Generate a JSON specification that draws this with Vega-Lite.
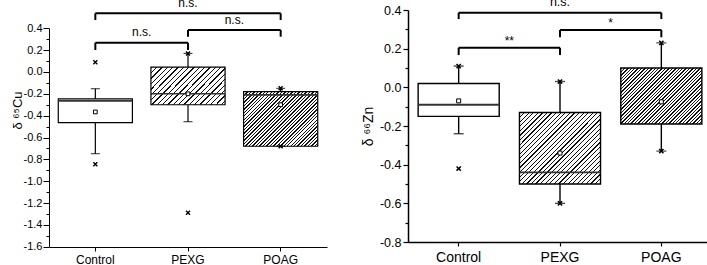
{
"$schema":"https://vega.github.io/schema/vega-lite/v6.json",
"padding":{"left":11,"top":-5,"right":0,"bottom":0},
"spacing":34,
"config":{"view":{"stroke":null},"font":"Liberation Sans","axis":{"domainColor":"#000","tickColor":"#000","labelColor":"#000","titleColor":"#000","labelFont":"Liberation Sans","titleFont":"Liberation Sans","titleFontWeight":"normal","grid":false,"labelOverlap":false},"text":{"font":"Liberation Sans","color":"#000"}},
"datasets":{
"boxes":[
{"panel":"Cu","group":"Control","lo":-0.748,"q1":-0.464,"med":-0.265,"q3":-0.247,"hi":-0.153,"mean":-0.366},
{"panel":"Cu","group":"PEXG","lo":-0.455,"q1":-0.3,"med":-0.2,"q3":0.045,"hi":0.17,"mean":-0.2},
{"panel":"Cu","group":"POAG","lo":-0.68,"q1":-0.68,"med":-0.21,"q3":-0.18,"hi":-0.15,"mean":-0.3},
{"panel":"Zn","group":"Control","lo":-0.24,"q1":-0.15,"med":-0.09,"q3":0.02,"hi":0.11,"mean":-0.07},
{"panel":"Zn","group":"PEXG","lo":-0.6,"q1":-0.5,"med":-0.44,"q3":-0.13,"hi":0.03,"mean":-0.34},
{"panel":"Zn","group":"POAG","lo":-0.33,"q1":-0.19,"med":null,"q3":0.1,"hi":0.23,"mean":-0.075}
],
"marks":[
{"panel":"Cu","group":"Control","v":0.09},{"panel":"Cu","group":"Control","v":-0.845},
{"panel":"Cu","group":"PEXG","v":0.17},{"panel":"Cu","group":"PEXG","v":-1.29},
{"panel":"Cu","group":"POAG","v":-0.15},{"panel":"Cu","group":"POAG","v":-0.68},
{"panel":"Zn","group":"Control","v":0.11},{"panel":"Zn","group":"Control","v":-0.42},
{"panel":"Zn","group":"PEXG","v":0.03},{"panel":"Zn","group":"PEXG","v":-0.6},
{"panel":"Zn","group":"POAG","v":0.23},{"panel":"Zn","group":"POAG","v":-0.33}
],
"brackets":[
{"panel":"Cu","from":"Control","to":"PEXG","span":1,"y":0.268,"yEnd":0.201,"label":"n.s."},
{"panel":"Cu","from":"PEXG","to":"POAG","span":1,"y":0.384,"yEnd":0.323,"label":"n.s."},
{"panel":"Cu","from":"Control","to":"POAG","span":2,"y":0.537,"yEnd":0.476,"label":"n.s."},
{"panel":"Zn","from":"Control","to":"PEXG","span":1,"y":0.205,"yEnd":0.167,"label":"**"},
{"panel":"Zn","from":"PEXG","to":"POAG","span":1,"y":0.297,"yEnd":0.259,"label":"*"},
{"panel":"Zn","from":"Control","to":"POAG","span":2,"y":0.386,"yEnd":0.353,"label":"n.s."}
]
},
"hconcat":[
{"width":278,"height":247,
"layer":[
{"data":{"name":"boxes"},"transform":[{"filter":"datum.panel=='Cu' && datum.group=='Control'"}],
"mark":{"type":"bar","fill":"#fff","stroke":"#000","strokeWidth":1.2,"width":{"band":0.8}},
"encoding":{"x":{"field":"group","type":"nominal","scale":{"domain":["Control","PEXG","POAG"],"paddingInner":0,"paddingOuter":0},"axis":{"title":null,"labelAngle":0,"labelFontSize":12,"tickSize":4,"labelPadding":3,"domainWidth":1,"tickWidth":1}},
"y":{"field":"q1","type":"quantitative","scale":{"domain":[-1.6,0.4],"range":[246.7,28.3],"nice":false,"zero":false},"axis":{"title":"δ ⁶⁵Cu","titleFontSize":13,"titlePadding":-1,"titleY":110,"labelOverlap":false,"tickCount":100,"labelFontSize":11,"labelPadding":1,"values":[-1.6,-1.5,-1.4,-1.3,-1.2,-1.1,-1,-0.9,-0.8,-0.7,-0.6,-0.5,-0.4,-0.3,-0.2,-0.1,0,0.1,0.2,0.3,0.4],"labelExpr":"abs(round(datum.value*10))%2==0 ? replace(format(datum.value,'.1f'),'\u2212','-') : ''","tickSize":{"condition":{"test":"abs(round(datum.value*10))%2==0","value":6},"value":3},"domainWidth":1,"tickWidth":1}},
"y2":{"field":"q3"}}},
{"data":{"name":"boxes"},"transform":[{"filter":"datum.panel=='Cu' && datum.group=='PEXG'"}],
"mark":{"type":"bar","stroke":"#000","strokeWidth":1.2,"width":{"band":0.8},"fill":{"gradient":"linear","x1":0,"y1":0,"x2":1.2,"y2":0.6,"stops":[
{"offset":0,"color":"#111"},{"offset":0.012,"color":"#111"},{"offset":0.012,"color":"#fff"},{"offset":0.048,"color":"#fff"},
{"offset":0.048,"color":"#111"},{"offset":0.06,"color":"#111"},{"offset":0.06,"color":"#fff"},{"offset":0.096,"color":"#fff"},
{"offset":0.096,"color":"#111"},{"offset":0.108,"color":"#111"},{"offset":0.108,"color":"#fff"},{"offset":0.144,"color":"#fff"},
{"offset":0.144,"color":"#111"},{"offset":0.156,"color":"#111"},{"offset":0.156,"color":"#fff"},{"offset":0.192,"color":"#fff"},
{"offset":0.192,"color":"#111"},{"offset":0.204,"color":"#111"},{"offset":0.204,"color":"#fff"},{"offset":0.24,"color":"#fff"},
{"offset":0.24,"color":"#111"},{"offset":0.252,"color":"#111"},{"offset":0.252,"color":"#fff"},{"offset":0.288,"color":"#fff"},
{"offset":0.288,"color":"#111"},{"offset":0.3,"color":"#111"},{"offset":0.3,"color":"#fff"},{"offset":0.336,"color":"#fff"},
{"offset":0.336,"color":"#111"},{"offset":0.348,"color":"#111"},{"offset":0.348,"color":"#fff"},{"offset":0.384,"color":"#fff"},
{"offset":0.384,"color":"#111"},{"offset":0.396,"color":"#111"},{"offset":0.396,"color":"#fff"},{"offset":0.432,"color":"#fff"},
{"offset":0.432,"color":"#111"},{"offset":0.444,"color":"#111"},{"offset":0.444,"color":"#fff"},{"offset":0.48,"color":"#fff"},
{"offset":0.48,"color":"#111"},{"offset":0.492,"color":"#111"},{"offset":0.492,"color":"#fff"},{"offset":0.528,"color":"#fff"},
{"offset":0.528,"color":"#111"},{"offset":0.54,"color":"#111"},{"offset":0.54,"color":"#fff"},{"offset":0.576,"color":"#fff"},
{"offset":0.576,"color":"#111"},{"offset":0.588,"color":"#111"},{"offset":0.588,"color":"#fff"},{"offset":0.624,"color":"#fff"},
{"offset":0.624,"color":"#111"},{"offset":0.636,"color":"#111"},{"offset":0.636,"color":"#fff"},{"offset":0.672,"color":"#fff"},
{"offset":0.672,"color":"#111"},{"offset":0.684,"color":"#111"},{"offset":0.684,"color":"#fff"},{"offset":0.72,"color":"#fff"},
{"offset":0.72,"color":"#111"},{"offset":0.732,"color":"#111"},{"offset":0.732,"color":"#fff"},{"offset":0.768,"color":"#fff"},
{"offset":0.768,"color":"#111"},{"offset":0.78,"color":"#111"},{"offset":0.78,"color":"#fff"},{"offset":0.816,"color":"#fff"},
{"offset":0.816,"color":"#111"},{"offset":0.828,"color":"#111"},{"offset":0.828,"color":"#fff"},{"offset":0.864,"color":"#fff"},
{"offset":0.864,"color":"#111"},{"offset":0.876,"color":"#111"},{"offset":0.876,"color":"#fff"},{"offset":0.912,"color":"#fff"},
{"offset":0.912,"color":"#111"},{"offset":0.924,"color":"#111"},{"offset":0.924,"color":"#fff"},{"offset":0.96,"color":"#fff"},
{"offset":0.96,"color":"#111"},{"offset":0.972,"color":"#111"},{"offset":0.972,"color":"#fff"},{"offset":1,"color":"#fff"}]}},
"encoding":{"x":{"field":"group","type":"nominal"},"y":{"field":"q1","type":"quantitative"},"y2":{"field":"q3"}}},
{"data":{"name":"boxes"},"transform":[{"filter":"datum.panel=='Cu' && datum.group=='POAG'"}],
"mark":{"type":"bar","stroke":"#000","strokeWidth":1.2,"width":{"band":0.8},"fill":{"gradient":"linear","x1":0,"y1":0,"x2":1.1255,"y2":0.8294,"stops":[
{"offset":0,"color":"#111"},{"offset":0.011,"color":"#111"},{"offset":0.011,"color":"#fff"},{"offset":0.027,"color":"#fff"},
{"offset":0.027,"color":"#111"},{"offset":0.038,"color":"#111"},{"offset":0.038,"color":"#fff"},{"offset":0.054,"color":"#fff"},
{"offset":0.054,"color":"#111"},{"offset":0.065,"color":"#111"},{"offset":0.065,"color":"#fff"},{"offset":0.081,"color":"#fff"},
{"offset":0.081,"color":"#111"},{"offset":0.092,"color":"#111"},{"offset":0.092,"color":"#fff"},{"offset":0.108,"color":"#fff"},
{"offset":0.108,"color":"#111"},{"offset":0.119,"color":"#111"},{"offset":0.119,"color":"#fff"},{"offset":0.135,"color":"#fff"},
{"offset":0.135,"color":"#111"},{"offset":0.146,"color":"#111"},{"offset":0.146,"color":"#fff"},{"offset":0.162,"color":"#fff"},
{"offset":0.162,"color":"#111"},{"offset":0.173,"color":"#111"},{"offset":0.173,"color":"#fff"},{"offset":0.189,"color":"#fff"},
{"offset":0.189,"color":"#111"},{"offset":0.2,"color":"#111"},{"offset":0.2,"color":"#fff"},{"offset":0.216,"color":"#fff"},
{"offset":0.216,"color":"#111"},{"offset":0.227,"color":"#111"},{"offset":0.227,"color":"#fff"},{"offset":0.243,"color":"#fff"},
{"offset":0.243,"color":"#111"},{"offset":0.254,"color":"#111"},{"offset":0.254,"color":"#fff"},{"offset":0.27,"color":"#fff"},
{"offset":0.27,"color":"#111"},{"offset":0.281,"color":"#111"},{"offset":0.281,"color":"#fff"},{"offset":0.297,"color":"#fff"},
{"offset":0.297,"color":"#111"},{"offset":0.308,"color":"#111"},{"offset":0.308,"color":"#fff"},{"offset":0.324,"color":"#fff"},
{"offset":0.324,"color":"#111"},{"offset":0.335,"color":"#111"},{"offset":0.335,"color":"#fff"},{"offset":0.351,"color":"#fff"},
{"offset":0.351,"color":"#111"},{"offset":0.362,"color":"#111"},{"offset":0.362,"color":"#fff"},{"offset":0.378,"color":"#fff"},
{"offset":0.378,"color":"#111"},{"offset":0.389,"color":"#111"},{"offset":0.389,"color":"#fff"},{"offset":0.405,"color":"#fff"},
{"offset":0.405,"color":"#111"},{"offset":0.416,"color":"#111"},{"offset":0.416,"color":"#fff"},{"offset":0.432,"color":"#fff"},
{"offset":0.432,"color":"#111"},{"offset":0.443,"color":"#111"},{"offset":0.443,"color":"#fff"},{"offset":0.459,"color":"#fff"},
{"offset":0.459,"color":"#111"},{"offset":0.47,"color":"#111"},{"offset":0.47,"color":"#fff"},{"offset":0.486,"color":"#fff"},
{"offset":0.486,"color":"#111"},{"offset":0.497,"color":"#111"},{"offset":0.497,"color":"#fff"},{"offset":0.513,"color":"#fff"},
{"offset":0.513,"color":"#111"},{"offset":0.524,"color":"#111"},{"offset":0.524,"color":"#fff"},{"offset":0.54,"color":"#fff"},
{"offset":0.54,"color":"#111"},{"offset":0.551,"color":"#111"},{"offset":0.551,"color":"#fff"},{"offset":0.567,"color":"#fff"},
{"offset":0.567,"color":"#111"},{"offset":0.578,"color":"#111"},{"offset":0.578,"color":"#fff"},{"offset":0.594,"color":"#fff"},
{"offset":0.594,"color":"#111"},{"offset":0.605,"color":"#111"},{"offset":0.605,"color":"#fff"},{"offset":0.621,"color":"#fff"},
{"offset":0.621,"color":"#111"},{"offset":0.632,"color":"#111"},{"offset":0.632,"color":"#fff"},{"offset":0.648,"color":"#fff"},
{"offset":0.648,"color":"#111"},{"offset":0.659,"color":"#111"},{"offset":0.659,"color":"#fff"},{"offset":0.675,"color":"#fff"},
{"offset":0.675,"color":"#111"},{"offset":0.686,"color":"#111"},{"offset":0.686,"color":"#fff"},{"offset":0.702,"color":"#fff"},
{"offset":0.702,"color":"#111"},{"offset":0.713,"color":"#111"},{"offset":0.713,"color":"#fff"},{"offset":0.729,"color":"#fff"},
{"offset":0.729,"color":"#111"},{"offset":0.74,"color":"#111"},{"offset":0.74,"color":"#fff"},{"offset":0.756,"color":"#fff"},
{"offset":0.756,"color":"#111"},{"offset":0.767,"color":"#111"},{"offset":0.767,"color":"#fff"},{"offset":0.783,"color":"#fff"},
{"offset":0.783,"color":"#111"},{"offset":0.794,"color":"#111"},{"offset":0.794,"color":"#fff"},{"offset":0.81,"color":"#fff"},
{"offset":0.81,"color":"#111"},{"offset":0.821,"color":"#111"},{"offset":0.821,"color":"#fff"},{"offset":0.837,"color":"#fff"},
{"offset":0.837,"color":"#111"},{"offset":0.848,"color":"#111"},{"offset":0.848,"color":"#fff"},{"offset":0.864,"color":"#fff"},
{"offset":0.864,"color":"#111"},{"offset":0.875,"color":"#111"},{"offset":0.875,"color":"#fff"},{"offset":0.891,"color":"#fff"},
{"offset":0.891,"color":"#111"},{"offset":0.902,"color":"#111"},{"offset":0.902,"color":"#fff"},{"offset":0.918,"color":"#fff"},
{"offset":0.918,"color":"#111"},{"offset":0.929,"color":"#111"},{"offset":0.929,"color":"#fff"},{"offset":0.945,"color":"#fff"},
{"offset":0.945,"color":"#111"},{"offset":0.956,"color":"#111"},{"offset":0.956,"color":"#fff"},{"offset":0.972,"color":"#fff"},
{"offset":0.972,"color":"#111"},{"offset":0.983,"color":"#111"},{"offset":0.983,"color":"#fff"},{"offset":0.999,"color":"#fff"},
{"offset":0.999,"color":"#111"},{"offset":1,"color":"#111"}]}},
"encoding":{"x":{"field":"group","type":"nominal"},"y":{"field":"q1","type":"quantitative"},"y2":{"field":"q3"}}},
{"data":{"name":"boxes"},"transform":[{"filter":"datum.panel=='Cu'"}],
"mark":{"type":"bar","fill":null,"stroke":"#333","strokeWidth":1.6,"width":{"band":0.8}},
"encoding":{"x":{"field":"group","type":"nominal"},"y":{"field":"med","type":"quantitative"},"y2":{"field":"med"}}},
{"data":{"name":"boxes"},"transform":[{"filter":"datum.panel=='Cu'"}],
"mark":{"type":"rule","color":"#000","strokeWidth":1.2},
"encoding":{"x":{"field":"group","type":"nominal"},"y":{"field":"q3","type":"quantitative"},"y2":{"field":"hi"}}},
{"data":{"name":"boxes"},"transform":[{"filter":"datum.panel=='Cu'"}],
"mark":{"type":"rule","color":"#000","strokeWidth":1.2},
"encoding":{"x":{"field":"group","type":"nominal"},"y":{"field":"lo","type":"quantitative"},"y2":{"field":"q1"}}},
{"data":{"name":"boxes"},"transform":[{"filter":"datum.panel=='Cu'"},{"fold":["lo","hi"],"as":["k","v"]}],
"mark":{"type":"tick","color":"#000","size":9,"thickness":1.2},
"encoding":{"x":{"field":"group","type":"nominal"},"y":{"field":"v","type":"quantitative"}}},
{"data":{"name":"marks"},"transform":[{"filter":"datum.panel=='Cu'"}],
"mark":{"type":"point","shape":"M-1,-1L1,1M-1,1L1,-1","filled":false,"stroke":"#000","strokeWidth":1.4,"size":16,"opacity":1},
"encoding":{"x":{"field":"group","type":"nominal"},"y":{"field":"v","type":"quantitative"}}},
{"data":{"name":"boxes"},"transform":[{"filter":"datum.panel=='Cu'"}],
"mark":{"type":"point","shape":"square","filled":true,"fill":"#fff","stroke":"#000","strokeWidth":1,"size":14,"opacity":1},
"encoding":{"x":{"field":"group","type":"nominal"},"y":{"field":"mean","type":"quantitative"}}},
{"data":{"name":"brackets"},"transform":[{"filter":"datum.panel=='Cu'"}],
"mark":{"type":"rule","color":"#000","strokeWidth":2},
"encoding":{"x":{"field":"from","type":"nominal"},"x2":{"field":"to"},"y":{"field":"y","type":"quantitative"}}},
{"data":{"name":"brackets"},"transform":[{"filter":"datum.panel=='Cu'"}],
"mark":{"type":"rule","color":"#000","strokeWidth":2},
"encoding":{"x":{"field":"from","type":"nominal"},"y":{"field":"y","type":"quantitative"},"y2":{"field":"yEnd"}}},
{"data":{"name":"brackets"},"transform":[{"filter":"datum.panel=='Cu'"}],
"mark":{"type":"rule","color":"#000","strokeWidth":2},
"encoding":{"x":{"field":"to","type":"nominal"},"y":{"field":"y","type":"quantitative"},"y2":{"field":"yEnd"}}},
{"data":{"name":"brackets"},"transform":[{"filter":"datum.panel=='Cu' && datum.span==1"}],
"mark":{"type":"text","fontSize":12,"baseline":"alphabetic","dy":-6.5},
"encoding":{"x":{"field":"from","type":"nominal","bandPosition":1},"y":{"field":"y","type":"quantitative"},"text":{"field":"label"}}},
{"data":{"name":"brackets"},"transform":[{"filter":"datum.panel=='Cu' && datum.span==2"}],
"mark":{"type":"text","fontSize":12,"baseline":"alphabetic","dy":-6.5},
"encoding":{"x":{"field":"from","type":"nominal","bandPosition":1.5},"y":{"field":"y","type":"quantitative"},"text":{"field":"label"}}}
]},
{"width":304,"height":242,
"layer":[
{"data":{"name":"boxes"},"transform":[{"filter":"datum.panel=='Zn' && datum.group=='Control'"}],
"mark":{"type":"bar","fill":"#fff","stroke":"#000","strokeWidth":1.4,"width":{"band":0.8}},
"encoding":{"x":{"field":"group","type":"nominal","scale":{"domain":["Control","PEXG","POAG"],"paddingInner":0,"paddingOuter":0},"axis":{"title":null,"labelAngle":0,"labelFontSize":14,"tickSize":4,"labelPadding":4,"domainWidth":1.5,"tickWidth":1.2}},
"y":{"field":"q1","type":"quantitative","scale":{"domain":[-0.8,0.4],"range":[242,10],"nice":false,"zero":false},"axis":{"title":"δ ⁶⁶Zn","titleFontSize":14,"titlePadding":4,"labelOverlap":false,"tickCount":100,"labelFontSize":12.5,"labelPadding":2,"values":[-0.8,-0.7,-0.6,-0.5,-0.4,-0.3,-0.2,-0.1,0,0.1,0.2,0.3,0.4],"labelExpr":"abs(round(datum.value*10))%2==0 ? replace(format(datum.value,'.1f'),'\u2212','-') : ''","tickSize":{"condition":{"test":"abs(round(datum.value*10))%2==0","value":5},"value":3},"domainWidth":1.5,"tickWidth":1.2}},
"y2":{"field":"q3"}}},
{"data":{"name":"boxes"},"transform":[{"filter":"datum.panel=='Zn' && datum.group=='PEXG'"}],
"mark":{"type":"bar","stroke":"#000","strokeWidth":1.4,"width":{"band":0.8},"fill":{"gradient":"linear","x1":0,"y1":0,"x2":1.059,"y2":0.934,"stops":[
{"offset":0,"color":"#111"},{"offset":0.008,"color":"#111"},{"offset":0.008,"color":"#fff"},{"offset":0.03,"color":"#fff"},
{"offset":0.03,"color":"#111"},{"offset":0.038,"color":"#111"},{"offset":0.038,"color":"#fff"},{"offset":0.06,"color":"#fff"},
{"offset":0.06,"color":"#111"},{"offset":0.068,"color":"#111"},{"offset":0.068,"color":"#fff"},{"offset":0.09,"color":"#fff"},
{"offset":0.09,"color":"#111"},{"offset":0.098,"color":"#111"},{"offset":0.098,"color":"#fff"},{"offset":0.12,"color":"#fff"},
{"offset":0.12,"color":"#111"},{"offset":0.128,"color":"#111"},{"offset":0.128,"color":"#fff"},{"offset":0.15,"color":"#fff"},
{"offset":0.15,"color":"#111"},{"offset":0.158,"color":"#111"},{"offset":0.158,"color":"#fff"},{"offset":0.18,"color":"#fff"},
{"offset":0.18,"color":"#111"},{"offset":0.188,"color":"#111"},{"offset":0.188,"color":"#fff"},{"offset":0.21,"color":"#fff"},
{"offset":0.21,"color":"#111"},{"offset":0.218,"color":"#111"},{"offset":0.218,"color":"#fff"},{"offset":0.24,"color":"#fff"},
{"offset":0.24,"color":"#111"},{"offset":0.248,"color":"#111"},{"offset":0.248,"color":"#fff"},{"offset":0.27,"color":"#fff"},
{"offset":0.27,"color":"#111"},{"offset":0.278,"color":"#111"},{"offset":0.278,"color":"#fff"},{"offset":0.3,"color":"#fff"},
{"offset":0.3,"color":"#111"},{"offset":0.308,"color":"#111"},{"offset":0.308,"color":"#fff"},{"offset":0.33,"color":"#fff"},
{"offset":0.33,"color":"#111"},{"offset":0.338,"color":"#111"},{"offset":0.338,"color":"#fff"},{"offset":0.36,"color":"#fff"},
{"offset":0.36,"color":"#111"},{"offset":0.368,"color":"#111"},{"offset":0.368,"color":"#fff"},{"offset":0.39,"color":"#fff"},
{"offset":0.39,"color":"#111"},{"offset":0.398,"color":"#111"},{"offset":0.398,"color":"#fff"},{"offset":0.42,"color":"#fff"},
{"offset":0.42,"color":"#111"},{"offset":0.428,"color":"#111"},{"offset":0.428,"color":"#fff"},{"offset":0.45,"color":"#fff"},
{"offset":0.45,"color":"#111"},{"offset":0.458,"color":"#111"},{"offset":0.458,"color":"#fff"},{"offset":0.48,"color":"#fff"},
{"offset":0.48,"color":"#111"},{"offset":0.488,"color":"#111"},{"offset":0.488,"color":"#fff"},{"offset":0.51,"color":"#fff"},
{"offset":0.51,"color":"#111"},{"offset":0.518,"color":"#111"},{"offset":0.518,"color":"#fff"},{"offset":0.54,"color":"#fff"},
{"offset":0.54,"color":"#111"},{"offset":0.548,"color":"#111"},{"offset":0.548,"color":"#fff"},{"offset":0.57,"color":"#fff"},
{"offset":0.57,"color":"#111"},{"offset":0.578,"color":"#111"},{"offset":0.578,"color":"#fff"},{"offset":0.6,"color":"#fff"},
{"offset":0.6,"color":"#111"},{"offset":0.608,"color":"#111"},{"offset":0.608,"color":"#fff"},{"offset":0.63,"color":"#fff"},
{"offset":0.63,"color":"#111"},{"offset":0.638,"color":"#111"},{"offset":0.638,"color":"#fff"},{"offset":0.66,"color":"#fff"},
{"offset":0.66,"color":"#111"},{"offset":0.668,"color":"#111"},{"offset":0.668,"color":"#fff"},{"offset":0.69,"color":"#fff"},
{"offset":0.69,"color":"#111"},{"offset":0.698,"color":"#111"},{"offset":0.698,"color":"#fff"},{"offset":0.72,"color":"#fff"},
{"offset":0.72,"color":"#111"},{"offset":0.728,"color":"#111"},{"offset":0.728,"color":"#fff"},{"offset":0.75,"color":"#fff"},
{"offset":0.75,"color":"#111"},{"offset":0.758,"color":"#111"},{"offset":0.758,"color":"#fff"},{"offset":0.78,"color":"#fff"},
{"offset":0.78,"color":"#111"},{"offset":0.788,"color":"#111"},{"offset":0.788,"color":"#fff"},{"offset":0.81,"color":"#fff"},
{"offset":0.81,"color":"#111"},{"offset":0.818,"color":"#111"},{"offset":0.818,"color":"#fff"},{"offset":0.84,"color":"#fff"},
{"offset":0.84,"color":"#111"},{"offset":0.848,"color":"#111"},{"offset":0.848,"color":"#fff"},{"offset":0.87,"color":"#fff"},
{"offset":0.87,"color":"#111"},{"offset":0.878,"color":"#111"},{"offset":0.878,"color":"#fff"},{"offset":0.9,"color":"#fff"},
{"offset":0.9,"color":"#111"},{"offset":0.908,"color":"#111"},{"offset":0.908,"color":"#fff"},{"offset":0.93,"color":"#fff"},
{"offset":0.93,"color":"#111"},{"offset":0.938,"color":"#111"},{"offset":0.938,"color":"#fff"},{"offset":0.96,"color":"#fff"},
{"offset":0.96,"color":"#111"},{"offset":0.968,"color":"#111"},{"offset":0.968,"color":"#fff"},{"offset":0.99,"color":"#fff"},
{"offset":0.99,"color":"#111"},{"offset":0.998,"color":"#111"},{"offset":0.998,"color":"#fff"},{"offset":1,"color":"#fff"}]}},
"encoding":{"x":{"field":"group","type":"nominal"},"y":{"field":"q1","type":"quantitative"},"y2":{"field":"q3"}}},
{"data":{"name":"boxes"},"transform":[{"filter":"datum.panel=='Zn' && datum.group=='POAG'"}],
"mark":{"type":"bar","stroke":"#000","strokeWidth":1.4,"width":{"band":0.8},"fill":{"gradient":"linear","x1":0,"y1":0,"x2":1.1442,"y2":0.7915,"stops":[
{"offset":0,"color":"#111"},{"offset":0.01,"color":"#111"},{"offset":0.01,"color":"#fff"},{"offset":0.025,"color":"#fff"},
{"offset":0.025,"color":"#111"},{"offset":0.035,"color":"#111"},{"offset":0.035,"color":"#fff"},{"offset":0.05,"color":"#fff"},
{"offset":0.05,"color":"#111"},{"offset":0.06,"color":"#111"},{"offset":0.06,"color":"#fff"},{"offset":0.075,"color":"#fff"},
{"offset":0.075,"color":"#111"},{"offset":0.085,"color":"#111"},{"offset":0.085,"color":"#fff"},{"offset":0.1,"color":"#fff"},
{"offset":0.1,"color":"#111"},{"offset":0.11,"color":"#111"},{"offset":0.11,"color":"#fff"},{"offset":0.125,"color":"#fff"},
{"offset":0.125,"color":"#111"},{"offset":0.135,"color":"#111"},{"offset":0.135,"color":"#fff"},{"offset":0.15,"color":"#fff"},
{"offset":0.15,"color":"#111"},{"offset":0.16,"color":"#111"},{"offset":0.16,"color":"#fff"},{"offset":0.175,"color":"#fff"},
{"offset":0.175,"color":"#111"},{"offset":0.185,"color":"#111"},{"offset":0.185,"color":"#fff"},{"offset":0.2,"color":"#fff"},
{"offset":0.2,"color":"#111"},{"offset":0.21,"color":"#111"},{"offset":0.21,"color":"#fff"},{"offset":0.225,"color":"#fff"},
{"offset":0.225,"color":"#111"},{"offset":0.235,"color":"#111"},{"offset":0.235,"color":"#fff"},{"offset":0.25,"color":"#fff"},
{"offset":0.25,"color":"#111"},{"offset":0.26,"color":"#111"},{"offset":0.26,"color":"#fff"},{"offset":0.275,"color":"#fff"},
{"offset":0.275,"color":"#111"},{"offset":0.285,"color":"#111"},{"offset":0.285,"color":"#fff"},{"offset":0.3,"color":"#fff"},
{"offset":0.3,"color":"#111"},{"offset":0.31,"color":"#111"},{"offset":0.31,"color":"#fff"},{"offset":0.325,"color":"#fff"},
{"offset":0.325,"color":"#111"},{"offset":0.335,"color":"#111"},{"offset":0.335,"color":"#fff"},{"offset":0.35,"color":"#fff"},
{"offset":0.35,"color":"#111"},{"offset":0.36,"color":"#111"},{"offset":0.36,"color":"#fff"},{"offset":0.375,"color":"#fff"},
{"offset":0.375,"color":"#111"},{"offset":0.385,"color":"#111"},{"offset":0.385,"color":"#fff"},{"offset":0.4,"color":"#fff"},
{"offset":0.4,"color":"#111"},{"offset":0.41,"color":"#111"},{"offset":0.41,"color":"#fff"},{"offset":0.425,"color":"#fff"},
{"offset":0.425,"color":"#111"},{"offset":0.435,"color":"#111"},{"offset":0.435,"color":"#fff"},{"offset":0.45,"color":"#fff"},
{"offset":0.45,"color":"#111"},{"offset":0.46,"color":"#111"},{"offset":0.46,"color":"#fff"},{"offset":0.475,"color":"#fff"},
{"offset":0.475,"color":"#111"},{"offset":0.485,"color":"#111"},{"offset":0.485,"color":"#fff"},{"offset":0.5,"color":"#fff"},
{"offset":0.5,"color":"#111"},{"offset":0.51,"color":"#111"},{"offset":0.51,"color":"#fff"},{"offset":0.525,"color":"#fff"},
{"offset":0.525,"color":"#111"},{"offset":0.535,"color":"#111"},{"offset":0.535,"color":"#fff"},{"offset":0.55,"color":"#fff"},
{"offset":0.55,"color":"#111"},{"offset":0.56,"color":"#111"},{"offset":0.56,"color":"#fff"},{"offset":0.575,"color":"#fff"},
{"offset":0.575,"color":"#111"},{"offset":0.585,"color":"#111"},{"offset":0.585,"color":"#fff"},{"offset":0.6,"color":"#fff"},
{"offset":0.6,"color":"#111"},{"offset":0.61,"color":"#111"},{"offset":0.61,"color":"#fff"},{"offset":0.625,"color":"#fff"},
{"offset":0.625,"color":"#111"},{"offset":0.635,"color":"#111"},{"offset":0.635,"color":"#fff"},{"offset":0.65,"color":"#fff"},
{"offset":0.65,"color":"#111"},{"offset":0.66,"color":"#111"},{"offset":0.66,"color":"#fff"},{"offset":0.675,"color":"#fff"},
{"offset":0.675,"color":"#111"},{"offset":0.685,"color":"#111"},{"offset":0.685,"color":"#fff"},{"offset":0.7,"color":"#fff"},
{"offset":0.7,"color":"#111"},{"offset":0.71,"color":"#111"},{"offset":0.71,"color":"#fff"},{"offset":0.725,"color":"#fff"},
{"offset":0.725,"color":"#111"},{"offset":0.735,"color":"#111"},{"offset":0.735,"color":"#fff"},{"offset":0.75,"color":"#fff"},
{"offset":0.75,"color":"#111"},{"offset":0.76,"color":"#111"},{"offset":0.76,"color":"#fff"},{"offset":0.775,"color":"#fff"},
{"offset":0.775,"color":"#111"},{"offset":0.785,"color":"#111"},{"offset":0.785,"color":"#fff"},{"offset":0.8,"color":"#fff"},
{"offset":0.8,"color":"#111"},{"offset":0.81,"color":"#111"},{"offset":0.81,"color":"#fff"},{"offset":0.825,"color":"#fff"},
{"offset":0.825,"color":"#111"},{"offset":0.835,"color":"#111"},{"offset":0.835,"color":"#fff"},{"offset":0.85,"color":"#fff"},
{"offset":0.85,"color":"#111"},{"offset":0.86,"color":"#111"},{"offset":0.86,"color":"#fff"},{"offset":0.875,"color":"#fff"},
{"offset":0.875,"color":"#111"},{"offset":0.885,"color":"#111"},{"offset":0.885,"color":"#fff"},{"offset":0.9,"color":"#fff"},
{"offset":0.9,"color":"#111"},{"offset":0.91,"color":"#111"},{"offset":0.91,"color":"#fff"},{"offset":0.925,"color":"#fff"},
{"offset":0.925,"color":"#111"},{"offset":0.935,"color":"#111"},{"offset":0.935,"color":"#fff"},{"offset":0.95,"color":"#fff"},
{"offset":0.95,"color":"#111"},{"offset":0.96,"color":"#111"},{"offset":0.96,"color":"#fff"},{"offset":0.975,"color":"#fff"},
{"offset":0.975,"color":"#111"},{"offset":0.985,"color":"#111"},{"offset":0.985,"color":"#fff"},{"offset":1,"color":"#fff"}]}},
"encoding":{"x":{"field":"group","type":"nominal"},"y":{"field":"q1","type":"quantitative"},"y2":{"field":"q3"}}},
{"data":{"name":"boxes"},"transform":[{"filter":"datum.panel=='Zn'"}],
"mark":{"type":"bar","fill":null,"stroke":"#333","strokeWidth":1.8,"width":{"band":0.8}},
"encoding":{"x":{"field":"group","type":"nominal"},"y":{"field":"med","type":"quantitative"},"y2":{"field":"med"}}},
{"data":{"name":"boxes"},"transform":[{"filter":"datum.panel=='Zn'"}],
"mark":{"type":"rule","color":"#000","strokeWidth":1.4},
"encoding":{"x":{"field":"group","type":"nominal"},"y":{"field":"q3","type":"quantitative"},"y2":{"field":"hi"}}},
{"data":{"name":"boxes"},"transform":[{"filter":"datum.panel=='Zn'"}],
"mark":{"type":"rule","color":"#000","strokeWidth":1.4},
"encoding":{"x":{"field":"group","type":"nominal"},"y":{"field":"lo","type":"quantitative"},"y2":{"field":"q1"}}},
{"data":{"name":"boxes"},"transform":[{"filter":"datum.panel=='Zn'"},{"fold":["lo","hi"],"as":["k","v"]}],
"mark":{"type":"tick","color":"#000","size":10,"thickness":1.4},
"encoding":{"x":{"field":"group","type":"nominal"},"y":{"field":"v","type":"quantitative"}}},
{"data":{"name":"marks"},"transform":[{"filter":"datum.panel=='Zn'"}],
"mark":{"type":"point","shape":"M-1,-1L1,1M-1,1L1,-1","filled":false,"stroke":"#000","strokeWidth":1.5,"size":18,"opacity":1},
"encoding":{"x":{"field":"group","type":"nominal"},"y":{"field":"v","type":"quantitative"}}},
{"data":{"name":"boxes"},"transform":[{"filter":"datum.panel=='Zn'"}],
"mark":{"type":"point","shape":"square","filled":true,"fill":"#fff","stroke":"#000","strokeWidth":1,"size":16,"opacity":1},
"encoding":{"x":{"field":"group","type":"nominal"},"y":{"field":"mean","type":"quantitative"}}},
{"data":{"name":"brackets"},"transform":[{"filter":"datum.panel=='Zn'"}],
"mark":{"type":"rule","color":"#000","strokeWidth":2},
"encoding":{"x":{"field":"from","type":"nominal"},"x2":{"field":"to"},"y":{"field":"y","type":"quantitative"}}},
{"data":{"name":"brackets"},"transform":[{"filter":"datum.panel=='Zn'"}],
"mark":{"type":"rule","color":"#000","strokeWidth":2},
"encoding":{"x":{"field":"from","type":"nominal"},"y":{"field":"y","type":"quantitative"},"y2":{"field":"yEnd"}}},
{"data":{"name":"brackets"},"transform":[{"filter":"datum.panel=='Zn'"}],
"mark":{"type":"rule","color":"#000","strokeWidth":2},
"encoding":{"x":{"field":"to","type":"nominal"},"y":{"field":"y","type":"quantitative"},"y2":{"field":"yEnd"}}},
{"data":{"name":"brackets"},"transform":[{"filter":"datum.panel=='Zn' && datum.span==1"}],
"mark":{"type":"text","fontSize":12,"baseline":"alphabetic","dy":-2.5},
"encoding":{"x":{"field":"from","type":"nominal","bandPosition":1},"y":{"field":"y","type":"quantitative"},"text":{"field":"label"}}},
{"data":{"name":"brackets"},"transform":[{"filter":"datum.panel=='Zn' && datum.span==2"}],
"mark":{"type":"text","fontSize":12.5,"baseline":"alphabetic","dy":-7},
"encoding":{"x":{"field":"from","type":"nominal","bandPosition":1.5},"y":{"field":"y","type":"quantitative"},"text":{"field":"label"}}}
]}
]
}
